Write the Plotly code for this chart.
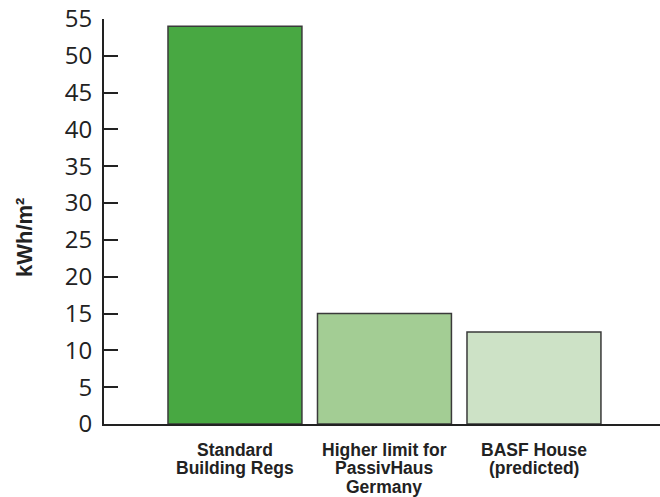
import plotly.graph_objects as go

categories = ["Standard<br>Building Regs", "Higher limit for<br>PassivHaus<br>Germany", "BASF House<br>(predicted)"]
values = [54, 15, 12.5]
bar_colors = ["#48a842", "#a3cd94", "#cde2c6"]
y_ticks = [0, 5, 10, 15, 20, 25, 30, 35, 40, 45, 50, 55]
y_title = "kWh/m²"

PLOT_TOP, PLOT_BOTTOM = 19, 424
PLOT_H = PLOT_BOTTOM - PLOT_TOP

fig = go.Figure()
fig.add_trace(go.Bar(
    x=list(range(len(categories))), y=values,
    width=0.896,
    marker=dict(color=bar_colors, line=dict(color="#3a3a3a", width=1.5)),
    hoverinfo="skip",
))

annotations = [dict(
    text=y_title, textangle=-90,
    xref="paper", yref="paper",
    x=(24 - 104) / 556, y=(PLOT_BOTTOM - 238) / PLOT_H,
    xanchor="center", yanchor="middle", showarrow=False,
    font=dict(family="Liberation Sans", size=22, color="#222222", weight="bold"),
)]
# category labels: one annotation per line for tight leading
for i, cat in enumerate(categories):
    for j, line in enumerate(cat.split("<br>")):
        center_px = 450 + j * 18.4
        annotations.append(dict(
            text=line, xref="x", yref="paper",
            x=i, y=(PLOT_BOTTOM - center_px) / PLOT_H,
            xanchor="center", yanchor="middle", showarrow=False,
            font=dict(family="Liberation Sans", size=17.5, color="#222222", weight="bold"),
        ))

fig.update_layout(
    width=660, height=497,
    margin=dict(l=104, r=0, t=PLOT_TOP, b=497 - PLOT_BOTTOM),
    paper_bgcolor="white", plot_bgcolor="white",
    showlegend=False,
    xaxis=dict(
        range=[-0.876, 2.843], automargin=False,
        tickmode="array", tickvals=[0, 1, 2], showticklabels=False,
        ticks="", showgrid=False, zeroline=False,
        showline=True, linecolor="#222222", linewidth=2,
    ),
    yaxis=dict(
        range=[0, 55], automargin=False,
        tickmode="array", tickvals=y_ticks,
        ticks="inside", ticklen=14, tickwidth=2, tickcolor="#222222",
        showgrid=False, zeroline=False,
        showline=True, linecolor="#222222", linewidth=2,
        tickfont=dict(family="Open Sans", size=24, color="#222222"),
        ticklabelstandoff=5,
    ),
    annotations=annotations,
)

fig.write_html("out.html")
